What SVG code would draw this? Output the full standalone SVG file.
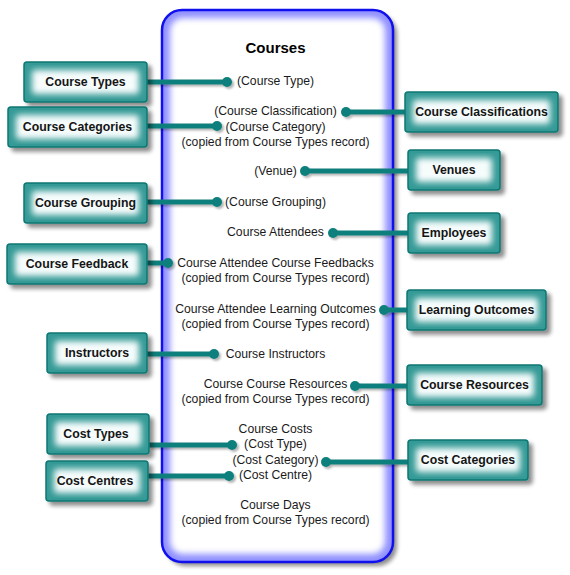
<svg xmlns="http://www.w3.org/2000/svg" width="570" height="575" viewBox="0 0 570 575">
<defs>
<filter id="shadow" x="-20%" y="-20%" width="150%" height="150%">
<feGaussianBlur in="SourceAlpha" stdDeviation="2"/>
<feOffset dx="4" dy="4" result="b"/>
<feComponentTransfer><feFuncA type="linear" slope="0.45"/></feComponentTransfer>
<feMerge><feMergeNode/><feMergeNode in="SourceGraphic"/></feMerge>
</filter>
<filter id="lshadow" x="-10%" y="-100%" width="130%" height="400%">
<feGaussianBlur in="SourceAlpha" stdDeviation="1"/>
<feOffset dx="2" dy="2"/>
<feComponentTransfer><feFuncA type="linear" slope="0.3"/></feComponentTransfer>
<feMerge><feMergeNode/><feMergeNode in="SourceGraphic"/></feMerge>
</filter>
<filter id="glow" x="-20%" y="-20%" width="140%" height="140%">
<feGaussianBlur stdDeviation="3.2"/>
</filter>
<filter id="bglow" x="-10%" y="-10%" width="120%" height="120%">
<feGaussianBlur stdDeviation="3"/>
</filter>
</defs>
<style>
.nb{fill:#349a96;stroke:#0d7773;stroke-width:1.5}
.ng{fill:#f6fcfc}
.nt{font-family:"Liberation Sans",Arial,sans-serif;font-size:12.3px;font-weight:bold;fill:#151515;text-anchor:middle}
.ft{font-family:"Liberation Sans",Arial,sans-serif;font-size:12.2px;fill:#1a1a1a;text-anchor:middle}
.cl{stroke:#0f7f7b;stroke-width:5;fill:none}
.cd{fill:#0f7f7b}
</style>

<g id="courses">
<rect x="162" y="10" width="231" height="552" rx="20" fill="#9090ff" filter="url(#shadow)"/>
<rect x="170" y="18" width="215" height="536" rx="13" fill="#ffffff" filter="url(#bglow)"/>
<rect x="162" y="10" width="231" height="552" rx="20" fill="none" stroke="#1010ee" stroke-width="2.5"/>
<text x="275.5" y="53" style="font-family:'Liberation Sans',Arial,sans-serif;font-size:15px;font-weight:bold;fill:#000;text-anchor:middle">Courses</text>
<text class="ft" x="275.5" y="85">(Course Type)</text>
<text class="ft" x="275.5" y="115">(Course Classification)</text>
<text class="ft" x="275.5" y="131">(Course Category)</text>
<text class="ft" x="275.5" y="146">(copied from Course Types record)</text>
<text class="ft" x="275.5" y="175">(Venue)</text>
<text class="ft" x="275.5" y="206">(Course Grouping)</text>
<text class="ft" x="275.5" y="236">Course Attendees</text>
<text class="ft" x="275.5" y="267">Course Attendee Course Feedbacks</text>
<text class="ft" x="275.5" y="282">(copied from Course Types record)</text>
<text class="ft" x="275.5" y="313">Course Attendee Learning Outcomes</text>
<text class="ft" x="275.5" y="328">(copied from Course Types record)</text>
<text class="ft" x="275.5" y="358">Course Instructors</text>
<text class="ft" x="275.5" y="388">Course Course Resources</text>
<text class="ft" x="275.5" y="403">(copied from Course Types record)</text>
<text class="ft" x="275.5" y="433">Course Costs</text>
<text class="ft" x="275.5" y="448">(Cost Type)</text>
<text class="ft" x="275.5" y="464">(Cost Category)</text>
<text class="ft" x="275.5" y="479">(Cost Centre)</text>
<text class="ft" x="275.5" y="509">Course Days</text>
<text class="ft" x="275.5" y="524">(copied from Course Types record)</text>
</g>

<g id="connectors" filter="url(#lshadow)">
<line class="cl" x1="147" y1="82" x2="227" y2="82"/><circle class="cd" cx="227" cy="82" r="5"/>
<line class="cl" x1="147" y1="126" x2="217" y2="126"/><circle class="cd" cx="217" cy="126" r="5"/>
<line class="cl" x1="405" y1="112" x2="346" y2="112"/><circle class="cd" cx="346" cy="112" r="5"/>
<line class="cl" x1="408" y1="171" x2="305" y2="171"/><circle class="cd" cx="305" cy="171" r="5"/>
<line class="cl" x1="147" y1="202" x2="217" y2="202"/><circle class="cd" cx="217" cy="202" r="5"/>
<line class="cl" x1="408" y1="233" x2="333" y2="233"/><circle class="cd" cx="333" cy="233" r="5"/>
<line class="cl" x1="147" y1="263" x2="168" y2="263"/><circle class="cd" cx="168" cy="263" r="5"/>
<line class="cl" x1="407" y1="310" x2="384" y2="310"/><circle class="cd" cx="384" cy="310" r="5"/>
<line class="cl" x1="147" y1="354" x2="214" y2="354"/><circle class="cd" cx="214" cy="354" r="5"/>
<line class="cl" x1="407" y1="386" x2="355" y2="386"/><circle class="cd" cx="355" cy="386" r="5"/>
<line class="cl" x1="149" y1="445" x2="232" y2="445"/><circle class="cd" cx="232" cy="445" r="5"/>
<line class="cl" x1="148" y1="476" x2="229" y2="476"/><circle class="cd" cx="229" cy="476" r="5"/>
<line class="cl" x1="408" y1="462" x2="326" y2="462"/><circle class="cd" cx="326" cy="462" r="5"/>
</g>

<g id="node-course-types">
<rect class="nb" x="24" y="62" width="123" height="40" rx="3" filter="url(#shadow)"/>
<rect class="ng" x="32" y="70" width="107" height="24" rx="3" filter="url(#glow)"/>
<text class="nt" x="85.5" y="86">Course Types</text>
</g>
<g id="node-course-categories">
<rect class="nb" x="8" y="107" width="139" height="40" rx="3" filter="url(#shadow)"/>
<rect class="ng" x="16" y="115" width="123" height="24" rx="3" filter="url(#glow)"/>
<text class="nt" x="77.5" y="131">Course Categories</text>
</g>
<g id="node-course-classifications">
<rect class="nb" x="405" y="92" width="153" height="40" rx="3" filter="url(#shadow)"/>
<rect class="ng" x="413" y="100" width="137" height="24" rx="3" filter="url(#glow)"/>
<text class="nt" x="481.5" y="116">Course Classifications</text>
</g>
<g id="node-venues">
<rect class="nb" x="408" y="150" width="92" height="40" rx="3" filter="url(#shadow)"/>
<rect class="ng" x="416" y="158" width="76" height="24" rx="3" filter="url(#glow)"/>
<text class="nt" x="454" y="174">Venues</text>
</g>
<g id="node-course-grouping">
<rect class="nb" x="24" y="183" width="123" height="40" rx="3" filter="url(#shadow)"/>
<rect class="ng" x="32" y="191" width="107" height="24" rx="3" filter="url(#glow)"/>
<text class="nt" x="85.5" y="207">Course Grouping</text>
</g>
<g id="node-employees">
<rect class="nb" x="408" y="213" width="92" height="40" rx="3" filter="url(#shadow)"/>
<rect class="ng" x="416" y="221" width="76" height="24" rx="3" filter="url(#glow)"/>
<text class="nt" x="454" y="237">Employees</text>
</g>
<g id="node-course-feedback">
<rect class="nb" x="7" y="244" width="140" height="40" rx="3" filter="url(#shadow)"/>
<rect class="ng" x="15" y="252" width="124" height="24" rx="3" filter="url(#glow)"/>
<text class="nt" x="77" y="268">Course Feedback</text>
</g>
<g id="node-learning-outcomes">
<rect class="nb" x="407" y="290" width="139" height="40" rx="3" filter="url(#shadow)"/>
<rect class="ng" x="415" y="298" width="123" height="24" rx="3" filter="url(#glow)"/>
<text class="nt" x="476.5" y="314">Learning Outcomes</text>
</g>
<g id="node-instructors">
<rect class="nb" x="47" y="333" width="100" height="40" rx="3" filter="url(#shadow)"/>
<rect class="ng" x="55" y="341" width="84" height="24" rx="3" filter="url(#glow)"/>
<text class="nt" x="97" y="357">Instructors</text>
</g>
<g id="node-course-resources">
<rect class="nb" x="407" y="365" width="135" height="40" rx="3" filter="url(#shadow)"/>
<rect class="ng" x="415" y="373" width="119" height="24" rx="3" filter="url(#glow)"/>
<text class="nt" x="474.5" y="389">Course Resources</text>
</g>
<g id="node-cost-types">
<rect class="nb" x="47" y="414" width="102" height="40" rx="3" filter="url(#shadow)"/>
<rect class="ng" x="55" y="422" width="86" height="24" rx="3" filter="url(#glow)"/>
<text class="nt" x="96" y="438">Cost Types</text>
</g>
<g id="node-cost-centres">
<rect class="nb" x="46" y="461" width="102" height="40" rx="3" filter="url(#shadow)"/>
<rect class="ng" x="54" y="469" width="86" height="24" rx="3" filter="url(#glow)"/>
<text class="nt" x="95" y="485">Cost Centres</text>
</g>
<g id="node-cost-categories">
<rect class="nb" x="408" y="440" width="120" height="40" rx="3" filter="url(#shadow)"/>
<rect class="ng" x="416" y="448" width="104" height="24" rx="3" filter="url(#glow)"/>
<text class="nt" x="468" y="464">Cost Categories</text>
</g>
</svg>
